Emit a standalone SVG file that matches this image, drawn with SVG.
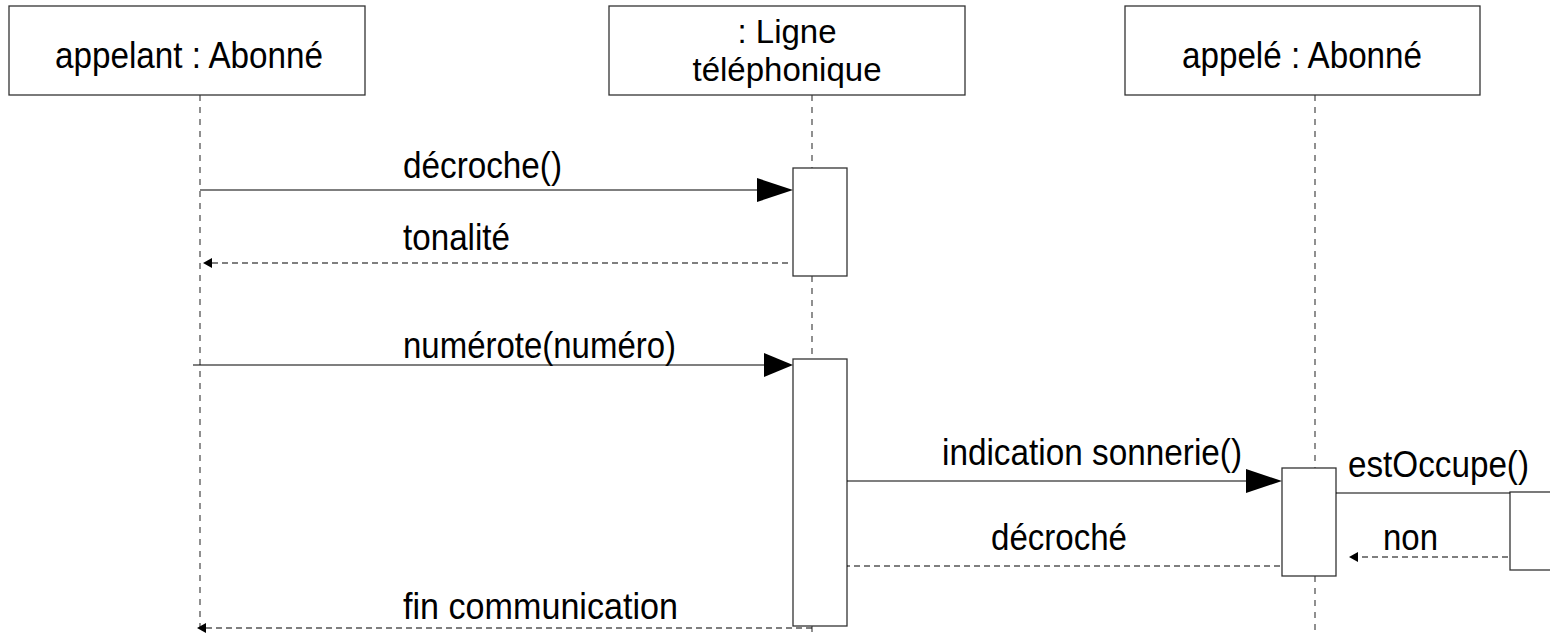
<svg xmlns="http://www.w3.org/2000/svg" width="1550" height="633" viewBox="0 0 1550 633">
  <style>
    .obj { fill: #ffffff; stroke: #333333; stroke-width: 1.3; }
    .act { fill: #ffffff; stroke: #333333; stroke-width: 1.3; }
    .life { stroke: #555555; stroke-width: 1.3; stroke-dasharray: 6 6; fill: none; }
    .call { stroke: #000000; stroke-width: 1.2; fill: none; }
    .ret { stroke: #000000; stroke-width: 1.2; stroke-dasharray: 6 4; fill: none; }
    .head { fill: #000000; stroke: none; }
    text { font-family: "Liberation Sans", Arial, sans-serif; font-size: 37px; fill: #000000; }
    .c { text-anchor: middle; }
    .two { font-size: 34px; }
  </style>

  <!-- lifelines -->
  <g id="lifelines">
    <line class="life" x1="200" y1="95" x2="200" y2="633"/>
    <line class="life" x1="812" y1="95" x2="812" y2="168"/>
    <line class="life" x1="812" y1="276" x2="812" y2="359"/>
    <line class="life" x1="812" y1="626" x2="812" y2="633"/>
    <line class="life" x1="1315" y1="95" x2="1315" y2="468"/>
    <line class="life" x1="1315" y1="576" x2="1315" y2="633"/>
  </g>

  <!-- participants -->
  <g id="appelant">
    <rect class="obj" x="9" y="6" width="356" height="89"/>
    <text class="c" x="189" y="68" textLength="268" lengthAdjust="spacingAndGlyphs">appelant : Abonné</text>
  </g>
  <g id="ligne">
    <rect class="obj" x="609" y="6" width="356" height="89"/>
    <text class="c two" x="787" y="43" textLength="99" lengthAdjust="spacingAndGlyphs">: Ligne</text>
    <text class="c two" x="787" y="81" textLength="189" lengthAdjust="spacingAndGlyphs">téléphonique</text>
  </g>
  <g id="appele">
    <rect class="obj" x="1125" y="6" width="355" height="89"/>
    <text class="c" x="1302" y="68" textLength="240" lengthAdjust="spacingAndGlyphs">appelé : Abonné</text>
  </g>

  <!-- activation bars -->
  <g id="activations">
    <rect class="act" x="793" y="168" width="54" height="108"/>
    <rect class="act" x="793" y="359" width="54" height="267"/>
    <rect class="act" x="1282" y="468" width="54" height="108"/>
    <rect class="act" x="1510" y="492" width="60" height="78"/>
  </g>

  <!-- messages -->
  <g id="connectors">
    <!-- décroche() -->
    <line class="call" x1="200" y1="190" x2="760" y2="190"/>
    <polygon class="head" points="757,178 793,190 757,202"/>
    <!-- tonalité -->
    <line class="ret" x1="788" y1="263" x2="210" y2="263"/>
    <polygon class="head" points="203,263 212,258 212,268"/>
    <!-- numérote(numéro) -->
    <line class="call" x1="193" y1="365" x2="766" y2="365"/>
    <polygon class="head" points="764,353 793,365 764,377"/>
    <!-- indication sonnerie() -->
    <line class="call" x1="847" y1="481" x2="1248" y2="481"/>
    <polygon class="head" points="1246,469 1282,481 1246,493"/>
    <!-- estOccupe() -->
    <line class="call" x1="1336" y1="493" x2="1510" y2="493"/>
    <!-- non -->
    <line class="ret" x1="1508" y1="557" x2="1356" y2="557"/>
    <polygon class="head" points="1349,557 1358,552 1358,562"/>
    <!-- décroché -->
    <line class="ret" x1="1280" y1="566" x2="847" y2="566"/>
    <!-- fin communication -->
    <line class="ret" x1="812" y1="628" x2="204" y2="628"/>
    <polygon class="head" points="197,628 206,623 206,633"/>
  </g>

  <!-- message labels -->
  <g id="labels">
    <text x="403" y="178" textLength="159" lengthAdjust="spacingAndGlyphs">décroche()</text>
    <text x="403" y="250" textLength="107" lengthAdjust="spacingAndGlyphs">tonalité</text>
    <text x="403" y="358" textLength="273" lengthAdjust="spacingAndGlyphs">numérote(numéro)</text>
    <text x="942" y="465" textLength="300" lengthAdjust="spacingAndGlyphs">indication sonnerie()</text>
    <text x="1348" y="477" textLength="181" lengthAdjust="spacingAndGlyphs">estOccupe()</text>
    <text x="991" y="550" textLength="136" lengthAdjust="spacingAndGlyphs">décroché</text>
    <text x="1383" y="550" textLength="55" lengthAdjust="spacingAndGlyphs">non</text>
    <text x="403" y="619" textLength="275" lengthAdjust="spacingAndGlyphs">fin communication</text>
  </g>
</svg>
